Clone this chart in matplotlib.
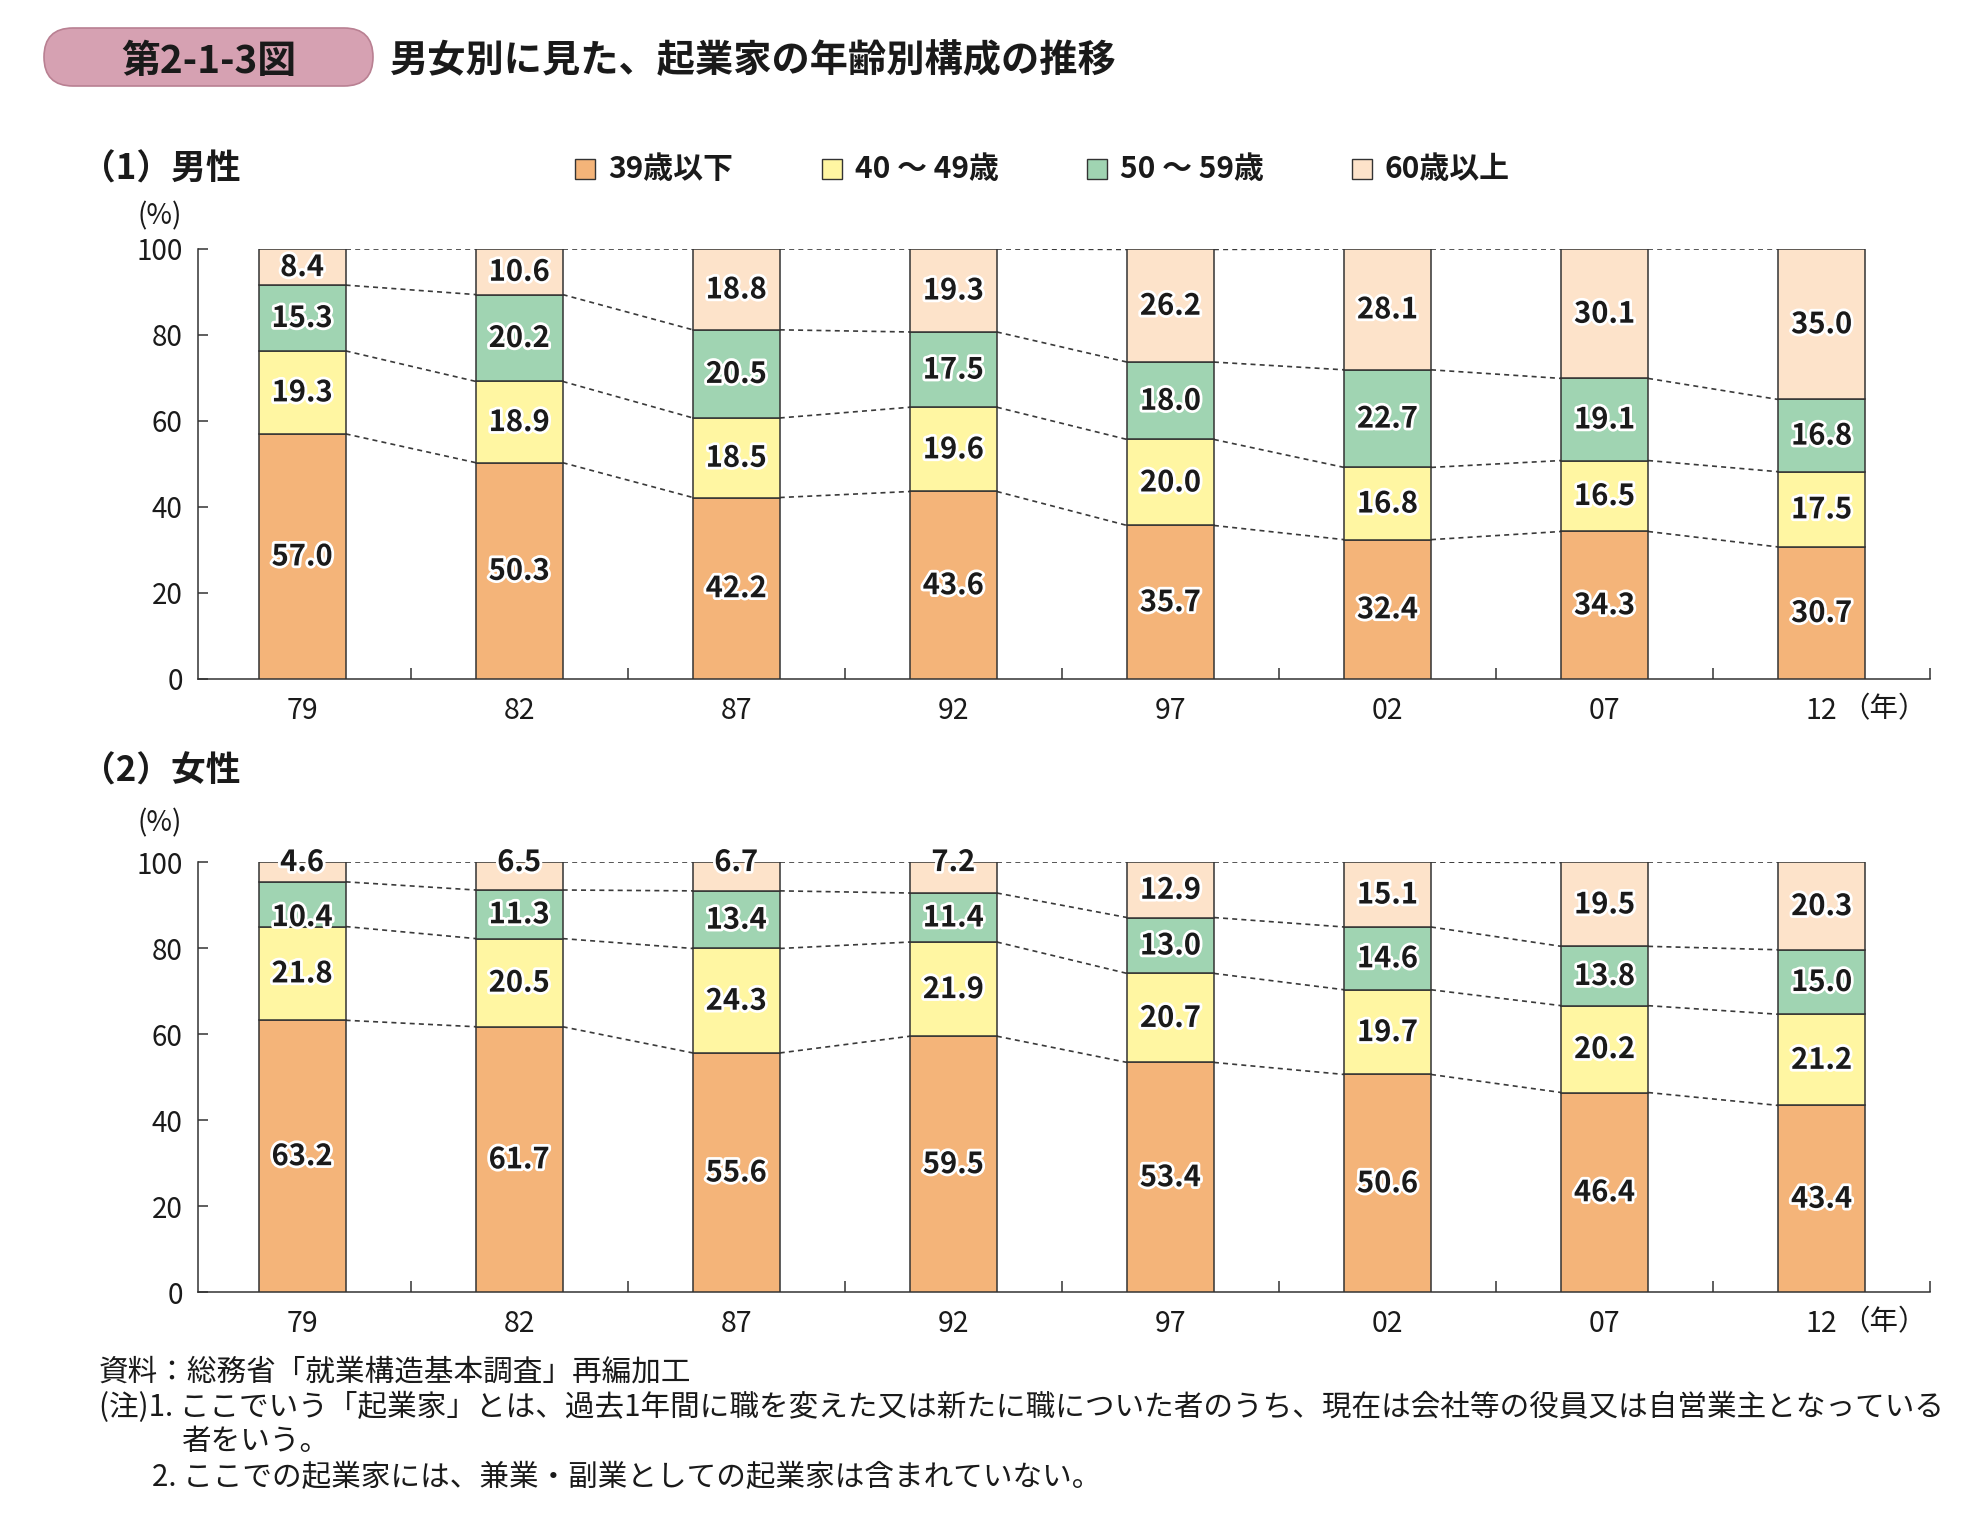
import matplotlib
matplotlib.use("Agg")
import matplotlib.pyplot as plt
import matplotlib.patheffects as pe
from matplotlib.patches import FancyBboxPatch, Rectangle
import numpy as np

plt.rcParams["font.family"] = ["Noto Sans CJK JP", "DejaVu Sans"]

years = ["79", "82", "87", "92", "97", "02", "07", "12"]
groups = ["39歳以下", "40 ～ 49歳", "50 ～ 59歳", "60歳以上"]
colors = ["#F4B479", "#FFF6A2", "#A0D4B2", "#FDE3CA"]

male_u39 = [57.0, 50.3, 42.2, 43.6, 35.7, 32.4, 34.3, 30.7]
male_40s = [19.3, 18.9, 18.5, 19.6, 20.0, 16.8, 16.5, 17.5]
male_50s = [15.3, 20.2, 20.5, 17.5, 18.0, 22.7, 19.1, 16.8]
male_60p = [8.4, 10.6, 18.8, 19.3, 26.2, 28.1, 30.1, 35.0]

female_u39 = [63.2, 61.7, 55.6, 59.5, 53.4, 50.6, 46.4, 43.4]
female_40s = [21.8, 20.5, 24.3, 21.9, 20.7, 19.7, 20.2, 21.2]
female_50s = [10.4, 11.3, 13.4, 11.4, 13.0, 14.6, 13.8, 15.0]
female_60p = [4.6, 6.5, 6.7, 7.2, 12.9, 15.1, 19.5, 20.3]

# small hand nudges for labels that sit off-centre in the original
label_nudge = {("female", 0, 2): -3.0}

EDGE = "#333333"
INK = "#1a1a1a"
BAR_W = 0.40
W, H = 1982, 1522


def fx(px):
    return px / W


def fy(py):
    return 1 - py / H


def draw_panel(ax, name, series):
    x = np.arange(len(years))
    data = np.array(series)
    bottoms = np.zeros(len(years))
    tops = []
    for k, vals in enumerate(data):
        ax.bar(x, vals, BAR_W, bottom=bottoms, color=colors[k],
               edgecolor=EDGE, linewidth=1.1, zorder=3)
        for i, v in enumerate(vals):
            y = bottoms[i] + v / 2
            if v < 8:
                y = bottoms[i] + v
            y += label_nudge.get((name, i, k), 0)
            ax.text(x[i], y, f"{v:.1f}", ha="center", va="center",
                    fontsize=21, fontweight="bold", color=INK, zorder=5,
                    path_effects=[pe.withStroke(linewidth=4, foreground="white")])
        bottoms = bottoms + vals
        tops.append(bottoms.copy())

    # dashed connectors between neighbouring bars
    for lvl in tops:
        for i in range(len(years) - 1):
            ax.plot([x[i] + BAR_W / 2, x[i + 1] - BAR_W / 2],
                    [lvl[i], lvl[i + 1]], ls=(0, (3, 2.5)), color="#3a3a3a",
                    lw=1.2, zorder=2)

    ax.set_xlim(-0.48, 7.5)
    ax.set_ylim(0, 100)
    ax.set_yticks([0, 20, 40, 60, 80, 100])
    ax.set_xticks(x)
    ax.set_xticklabels(years)
    ax.set_xticks(np.arange(0.5, 8, 1), minor=True)
    ax.tick_params(axis="x", which="major", length=0, pad=12, labelsize=20.5,
                   colors=INK)
    ax.tick_params(axis="x", which="minor", direction="in", length=8,
                   width=1.1, color=EDGE)
    ax.tick_params(axis="y", direction="in", length=7, width=1.1, pad=11,
                   labelsize=20, color=EDGE, labelcolor=INK)
    for s in ("top", "right"):
        ax.spines[s].set_visible(False)
    for s in ("left", "bottom"):
        ax.spines[s].set_color(EDGE)
        ax.spines[s].set_linewidth(1.1)
    ax.text(7.09, -0.07, "（年）", transform=ax.get_xaxis_transform(),
            ha="left", va="center", fontsize=20.5, color=INK)


fig = plt.figure(figsize=(W / 100, H / 100), dpi=100)
ax_m = fig.add_axes([0.0999, 0.5539, 0.874, 0.2825])
ax_f = fig.add_axes([0.0999, 0.1511, 0.874, 0.2825])

draw_panel(ax_m, "male", [male_u39, male_40s, male_50s, male_60p])
draw_panel(ax_f, "female", [female_u39, female_40s, female_50s, female_60p])

# title badge
badge = FancyBboxPatch((0.44, 14.36), 3.29, 0.58,
                       boxstyle="round,pad=0,rounding_size=0.29",
                       transform=fig.dpi_scale_trans, facecolor="#D6A1B2",
                       edgecolor="#B98092", linewidth=1.2)
fig.patches.append(badge)
fig.text(2.085 / 19.82, 14.61 / 15.22, "第2-1-3図", ha="center", va="center",
         fontsize=28, fontweight="bold", color=INK)
fig.text(0.1968, 0.9599, "男女別に見た、起業家の年齢別構成の推移", ha="left",
         va="center", fontsize=27.5, fontweight="bold", color=INK)

# panel headings
fig.text(0.041, fy(169), "（1）男性", ha="left", va="center", fontsize=25,
         fontweight="bold", color=INK)
fig.text(0.041, fy(771), "（2）女性", ha="left", va="center", fontsize=25,
         fontweight="bold", color=INK)
fig.text(fx(160), fy(216), "(%)", ha="center", va="center", fontsize=20,
         color=INK)
fig.text(fx(160), fy(823), "(%)", ha="center", va="center", fontsize=20,
         color=INK)

# legend row
leg_x = [575, 822, 1087, 1352]
for px, lab, c in zip(leg_x, groups, colors):
    fig.patches.append(Rectangle((fx(px), fy(179)), 20 / W, 20 / H,
                                 transform=fig.transFigure,
                                 facecolor=c, edgecolor=EDGE, linewidth=1.0))
    fig.text(fx(px + 33), fy(169), lab, ha="left", va="center",
             fontsize=21.5, fontweight="bold", color=INK)

# notes
note_kw = dict(ha="left", va="center", fontsize=21.3, color=INK)
fig.text(0.05, 0.0985, "資料：総務省「就業構造基本調査」再編加工", **note_kw)
fig.text(0.05, 0.0755, "(注)1. ここでいう「起業家」とは、過去1年間に職を変えた又は新たに職についた者のうち、現在は会社等の役員又は自営業主となっている", **note_kw)
fig.text(0.0913, 0.0532, "者をいう。", **note_kw)
fig.text(0.0767, 0.0295, "2. ここでの起業家には、兼業・副業としての起業家は含まれていない。", **note_kw)

fig.savefig("out.png", dpi=100, facecolor="white")
